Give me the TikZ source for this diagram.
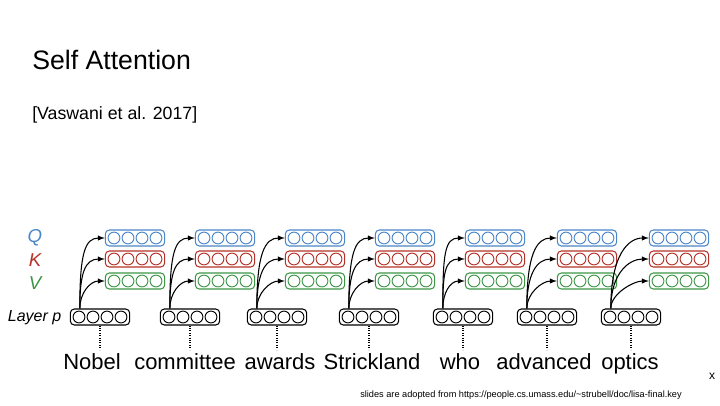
\documentclass[tikz,border=0pt]{standalone}
\usepackage{fontspec}
\setmainfont{Liberation Sans}
\usetikzlibrary{calc}
\definecolor{qc}{RGB}{74,134,200}
\definecolor{kc}{RGB}{180,50,40}
\definecolor{vc}{RGB}{60,150,70}
\tikzset{
  vbox/.style={draw=#1,rounded corners=3pt,minimum width=44.5pt,minimum height=12pt,inner sep=0pt,line width=0.8pt},
  arr/.style={-latex,line width=0.8pt},
  word/.style={font=\fontsize{16.5}{17}\selectfont,anchor=base,inner sep=0pt}
}
\newcommand\vecbox[4]{%
  \node[vbox=#4] (#1) at (#2,#3) {};
  \foreach \dx in {-21,-7,7,21}{\draw[#4,line width=0.7pt] ($(#1)+(\dx,0)$) circle (5.9);}
}
\begin{document}
\begin{tikzpicture}[x=0.75pt,y=-0.75pt]
\path[use as bounding box] (0,0) rectangle (720,405);
\node[anchor=base west,inner sep=0pt,font=\fontsize{20}{20}\selectfont] (title) at (32,69) {Self Attention};
\node[anchor=base west,inner sep=0pt,font=\fontsize{13.3}{14}\selectfont] (ref) at (32,119) {[Vaswani et al. 2017]};
\node[qc,font=\fontsize{14}{14}\selectfont\itshape] (Q) at (35,238) {Q};
\node[kc,font=\fontsize{14}{14}\selectfont\itshape] (K) at (35,260) {K};
\node[vc,font=\fontsize{14}{14}\selectfont\itshape] (V) at (35,283) {V};
\node[anchor=east,font=\fontsize{12}{12}\selectfont\itshape] (lp) at (66,318) {Layer p};
\foreach \i/\bx/\qx/\wx/\w in {1/100/135/92/Nobel,2/190/225/185/committee,3/277/315/280/awards,4/369/405/372/Strickland,5/463/495/460/who,6/547/587/544/advanced,7/631/679/630/optics}{
  \vecbox{b\i}{\bx}{317}{black}
  \vecbox{q\i}{\qx}{238}{qc}
  \vecbox{k\i}{\qx}{259}{kc}
  \vecbox{v\i}{\qx}{281}{vc}
  \coordinate (s\i) at ($(b\i.north west)+(10,0)$);
  \draw[arr] (s\i) .. controls ($(s\i)+(0,-55)$) and ($(q\i.west)+(-20,0)$) .. (q\i.west);
  \draw[arr] (s\i) .. controls ($(s\i)+(0,-35)$) and ($(k\i.west)+(-20,0)$) .. (k\i.west);
  \draw[arr] (s\i) .. controls ($(s\i)+(0,-15)$) and ($(v\i.west)+(-15,0)$) .. (v\i.west);
  \node[word] (w\i) at (\wx,369) {\w};
  \draw[densely dotted,line width=0.8pt] (b\i.south) -- ++(0,24);
}
\node[font=\fontsize{9}{9}\selectfont] (x) at (712,376) {x};
\node[anchor=base,inner sep=0pt,font=\fontsize{6.9}{7}\selectfont] (foot) at (521,397) {slides are adopted from https://people.cs.umass.edu/\textasciitilde strubell/doc/lisa-final.key};
\end{tikzpicture}
\end{document}
